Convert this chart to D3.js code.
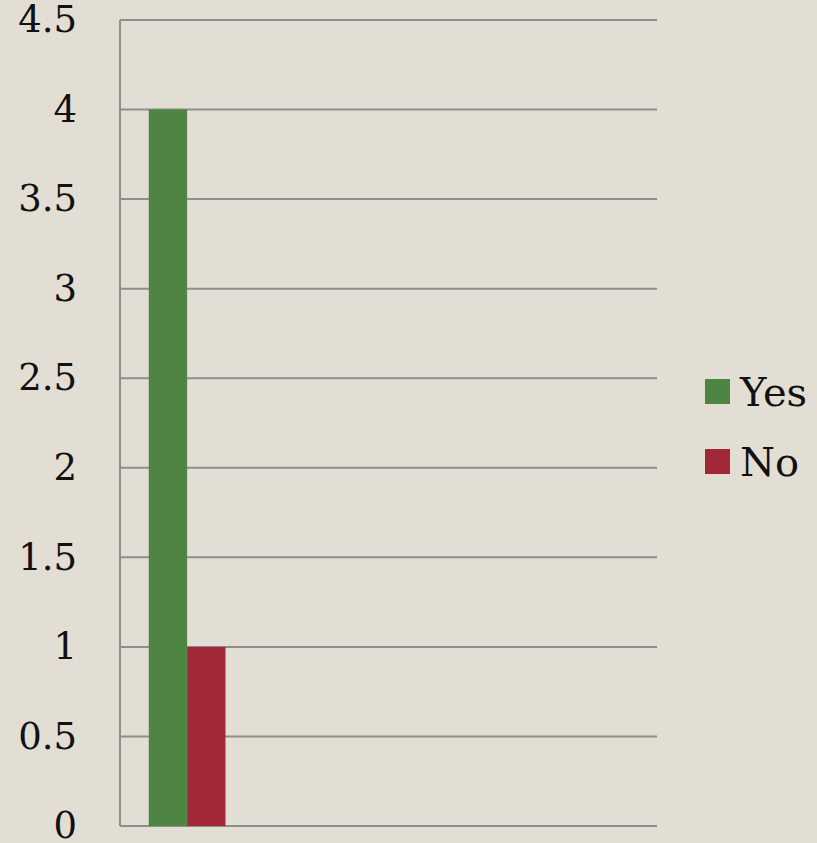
<!DOCTYPE html>
<html>
<head>
<meta charset="utf-8">
<script src="https://cdn.jsdelivr.net/npm/d3@7"></script>
<style>
  html, body { margin: 0; padding: 0; background: #e3ded3; }
</style>
</head>
<body>
<svg id="chart"></svg>
<script>
  // Excel-style clustered column chart, 4 category slots with only the first filled
  const categories = ["A", "B", "C", "D"];
  const seriesNames = ["Yes", "No"];
  const yesValues = [4, 0, 0, 0];
  const noValues = [1, 0, 0, 0];
  const yTicks = [0, 0.5, 1, 1.5, 2, 2.5, 3, 3.5, 4, 4.5];

  const color = {
    Yes: "#4e8542",
    No: "#a12837",
  };

  const size = { width: 817, height: 843 };
  const margin = { top: 20, bottom: 17, left: 120, right: 160 };

  const svg = d3.select("#chart")
    .attr("width", size.width)
    .attr("height", size.height)
    .style("font-family", "'DejaVu Serif', 'Liberation Serif', serif");

  const x = d3.scaleBand()
    .domain(categories)
    .range([margin.left, size.width - margin.right])
    .paddingInner(0)
    .paddingOuter(0);

  // gap width 150% -> bars take 2 / 3.5 of each slot
  const inner = d3.scaleBand()
    .domain(seriesNames)
    .range([0, x.bandwidth()])
    .paddingInner(0)
    .paddingOuter(0.75);

  const y = d3.scaleLinear()
    .domain([0, 4.5])
    .range([size.height - margin.bottom, margin.top]);

  // gridlines
  svg.append("g")
    .selectAll("line")
    .data(yTicks)
    .join("line")
    .attr("x1", margin.left)
    .attr("x2", size.width - margin.right)
    .attr("y1", (d) => y(d))
    .attr("y2", (d) => y(d))
    .attr("stroke", "#8e8e8e")
    .attr("stroke-width", 2);

  // y axis line
  svg.append("line")
    .attr("x1", margin.left)
    .attr("x2", margin.left)
    .attr("y1", y(0))
    .attr("y2", y(4.5))
    .attr("stroke", "#8e8e8e")
    .attr("stroke-width", 2);

  // tick labels
  svg.append("g")
    .selectAll("text")
    .data(yTicks)
    .join("text")
    .attr("x", 77)
    .attr("y", (d) => y(d))
    .attr("dy", "0.33em")
    .attr("text-anchor", "end")
    .attr("fill", "#111")
    .style("font-size", "37px")
    .text((d) => d);

  const rows = categories.map((c, i) => ({ cat: c, Yes: yesValues[i], No: noValues[i] }));

  const groups = svg.append("g")
    .selectAll("g")
    .data(rows)
    .join("g")
    .attr("transform", (d) => `translate(${x(d.cat)},0)`);

  groups.selectAll("rect")
    .data((d) => seriesNames.map((s) => ({ key: s, value: d[s] })))
    .join("rect")
    .attr("x", (d) => inner(d.key))
    .attr("width", inner.bandwidth())
    .attr("y", (d) => y(d.value))
    .attr("height", (d) => y(0) - y(d.value))
    .attr("fill", (d) => color[d.key]);

  // legend
  const legend = svg.append("g").attr("transform", "translate(705, 379)");

  seriesNames.forEach((s, i) => {
    const row = legend.append("g").attr("transform", `translate(0, ${i * 70})`);
    row.append("rect")
      .attr("width", 25)
      .attr("height", 25)
      .attr("fill", color[s]);
    row.append("text")
      .attr("x", 35)
      .attr("y", 12.5)
      .attr("dy", "0.36em")
      .attr("fill", "#111")
      .style("font-size", "40px")
      .text(s);
  });
</script>
</body>
</html>
